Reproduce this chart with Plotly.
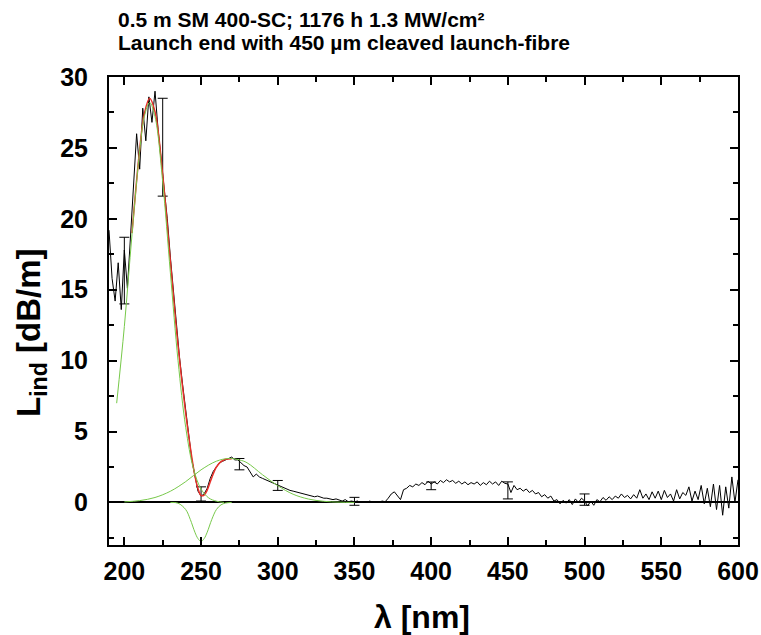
import plotly.graph_objects as go

# measured induced loss, 2 nm grid 190..600
wl = list(range(190, 601, 2))
loss = [
    19.2, 15.8, 14.2, 16.9, 13.6, 17.8, 15.1, 18.5, 22.5, 26.0,   # 190
    23.5, 27.8, 25.5, 28.6, 26.8, 29.0, 26.3, 24.2, 22.0, 20.0,   # 210
    17.3, 15.0, 12.3, 10.2, 8.3, 6.4, 4.6, 3.0, 1.9, 0.8,         # 230
    0.45, 0.6, 1.0, 1.7, 2.2, 2.5, 2.8, 2.9, 3.0, 3.1,            # 250
    3.2, 3.0, 3.0, 2.8, 2.6, 2.5, 2.1, 1.8, 2.0, 1.8,             # 270
    1.7, 1.6, 1.5, 1.4, 1.3, 1.2, 1.1, 1.0, 0.95, 0.85,           # 290
    0.8, 0.75, 0.65, 0.6, 0.6, 0.5, 0.5, 0.4, 0.45, 0.35,         # 310
    0.3, 0.3, 0.25, 0.2, 0.25, 0.15, 0.1, 0.2, 0.05, 0.1,         # 330
    0.05, 0.1, 0.0, 0.05, 0.0, 0.1, 0.0, 0.05, 0.0, 0.1,          # 350
    0.05, 0.3, 0.6, 0.75, 0.5, 0.2, 0.9, 1.0, 1.2, 1.1,           # 370
    1.3, 1.2, 1.4, 1.25, 1.5, 1.3, 1.45, 1.3, 1.55, 1.4,          # 390
    1.6, 1.45, 1.55, 1.35, 1.5, 1.3, 1.45, 1.25, 1.4, 1.3,        # 410
    1.45, 1.2, 1.4, 1.25, 1.5, 1.3, 1.45, 1.2, 1.5, 1.35,         # 430
    1.3, 0.7, 1.2, 0.9, 1.0, 0.8, 0.95, 0.7, 0.85, 0.6,           # 450
    0.7, 0.4, 0.55, 0.3, 0.45, 0.1, 0.2, -0.1, 0.15, -0.05,       # 470
    0.2, -0.15, 0.25, 0.0, 0.3, 0.1, -0.25, 0.1, -0.2, 0.2,       # 490
    0.05, 0.35, 0.15, 0.4, 0.2, 0.45, 0.3, 0.6, 0.35, 0.5,        # 510
    0.25, 0.55, 0.3, 0.9, 0.3, 0.6, 0.2, 0.75, 0.3, 0.8,          # 530
    0.2, 0.85, 0.35, 0.6, 0.1, 0.9, 0.25, 0.7, 0.5, 1.1,          # 550
    0.1, 0.8, 0.2, 1.2, -0.1, 1.0, -0.3, 1.3, -0.5, 1.2,          # 570
    -0.9, 1.1, -0.4, 1.8, 0.0, 1.6,                               # 590
]

# error bars
err_wl = [200, 225, 250, 275, 300, 350, 400, 450, 500]
err_val = [16.35, 25.05, 0.6, 2.7, 1.2, 0.08, 1.17, 0.85, 0.2]
err_size = [2.35, 3.45, 0.5, 0.4, 0.35, 0.28, 0.27, 0.6, 0.4]

# gaussian fit components
g1_wl = [195, 200, 205, 210, 213, 216.5, 220, 225, 230, 235, 240, 245, 250, 255, 260, 265]
g1 = [7.0, 12.4, 18.9, 24.8, 27.2, 28.2, 27.2, 22.6, 16.2, 10.0, 5.3, 2.4, 0.94, 0.32, 0.09, 0.0]

g2_wl = [230, 235, 240, 243, 246, 248, 250, 252, 254, 257, 260, 263, 266, 270]
g2 = [0.0, -0.05, -0.5, -1.2, -2.1, -2.55, -2.75, -2.55, -2.1, -1.2, -0.5, -0.17, -0.04, 0.0]

g3_wl = [200, 210, 220, 230, 240, 250, 260, 268, 275, 280, 290, 300, 310, 320, 330, 340, 350]
g3 = [0.04, 0.13, 0.35, 0.79, 1.47, 2.3, 2.91, 3.1, 3.0, 2.8, 1.96, 1.18, 0.58, 0.24, 0.08, 0.02, 0.0]

# cumulative fit
fit_wl = [205, 210, 213, 216.5, 220, 225, 230, 235, 240, 243, 246, 248, 250, 252, 254, 257,
          260, 263, 266, 270]
fit = [19.0, 24.9, 27.4, 28.5, 27.55, 23.1, 17.0, 11.05, 6.27, 3.88, 1.87, 0.98, 0.49, 0.52,
       0.87, 1.75, 2.5, 2.88, 3.05, 3.09]

green = "#77c94a"
fnt = "Liberation Sans, Arial, sans-serif"
fig_w, fig_h = 761, 635
m_l, m_r, m_t, m_b = 109, 23, 77, 90
plot_w = fig_w - m_l - m_r
plot_h = fig_h - m_t - m_b

fig = go.Figure()
fig.add_trace(go.Scatter(x=wl, y=loss, mode="lines",
                         line=dict(color="black", width=1)))
fig.add_trace(go.Scatter(x=err_wl, y=err_val, mode="markers",
                         marker=dict(size=0.1, color="black"),
                         error_y=dict(type="data", array=err_size, color="black",
                                      thickness=1, width=5)))
fig.add_trace(go.Scatter(x=fit_wl, y=fit, mode="lines", line_shape="spline",
                         line=dict(color="#e8302a", width=1.5)))
for gx, gy in [(g1_wl, g1), (g2_wl, g2), (g3_wl, g3)]:
    fig.add_trace(go.Scatter(x=gx, y=gy, mode="lines", line_shape="spline",
                             line=dict(color=green, width=1)))

axis_common = dict(showline=True, linecolor="black", linewidth=2, mirror="allticks",
                   ticks="inside", ticklen=8, tickwidth=2, tickcolor="black",
                   showgrid=False, automargin=False,
                   tickfont=dict(family=fnt, size=25, color="black", weight="bold"))

fig.update_xaxes(range=[190, 600], dtick=50, tick0=200,
                 minor=dict(ticks="inside", ticklen=5, tickwidth=1.5, dtick=25, tick0=200,
                            tickcolor="black"),
                 ticklabelstandoff=3, zeroline=False, **axis_common)
fig.update_yaxes(range=[-3, 30], dtick=5, tick0=0,
                 minor=dict(ticks="inside", ticklen=5, tickwidth=1.5, dtick=2.5, tick0=0,
                            tickcolor="black"),
                 ticklabelstandoff=14, zeroline=True, zerolinecolor="black", zerolinewidth=2,
                 **axis_common)

# axis titles (positions in page pixels, converted to paper units)
fig.add_annotation(text="λ [nm]", xref="paper", yref="paper",
                   x=(422 - m_l) / plot_w, y=-(617 - 545) / plot_h,
                   xanchor="center", yanchor="middle", showarrow=False,
                   font=dict(family=fnt, size=32, color="black", weight="bold"))
fig.add_annotation(text="L<sub>ind</sub> [dB/m]", xref="paper", yref="paper", textangle=-90,
                   x=-(m_l - 31) / plot_w, y=(545 - 333) / plot_h,
                   xanchor="center", yanchor="middle", showarrow=False,
                   font=dict(family=fnt, size=33, color="black", weight="bold"))

title_lines = ["0.5 m SM 400-SC; 1176 h 1.3 MW/cm²",
               "Launch end with 450 µm cleaved launch-fibre"]
title_y = [1 + (77 - 19) / plot_h, 1 + (77 - 42) / plot_h]
for t, ty in zip(title_lines, title_y):
    fig.add_annotation(text=t, xref="paper", yref="paper", x=(116 - m_l) / plot_w, y=ty,
                       xanchor="left", yanchor="middle", showarrow=False,
                       font=dict(family=fnt, size=21, color="black", weight="bold"))

fig.update_layout(width=fig_w, height=fig_h, showlegend=False,
                  plot_bgcolor="white", paper_bgcolor="white",
                  margin=dict(l=m_l, r=m_r, t=m_t, b=m_b))

# drop the default 8 px body margin so the figure fills the window exactly
fig.write_html("out.html", config={"displayModeBar": False},
               post_script="document.body.style.margin='0';")
